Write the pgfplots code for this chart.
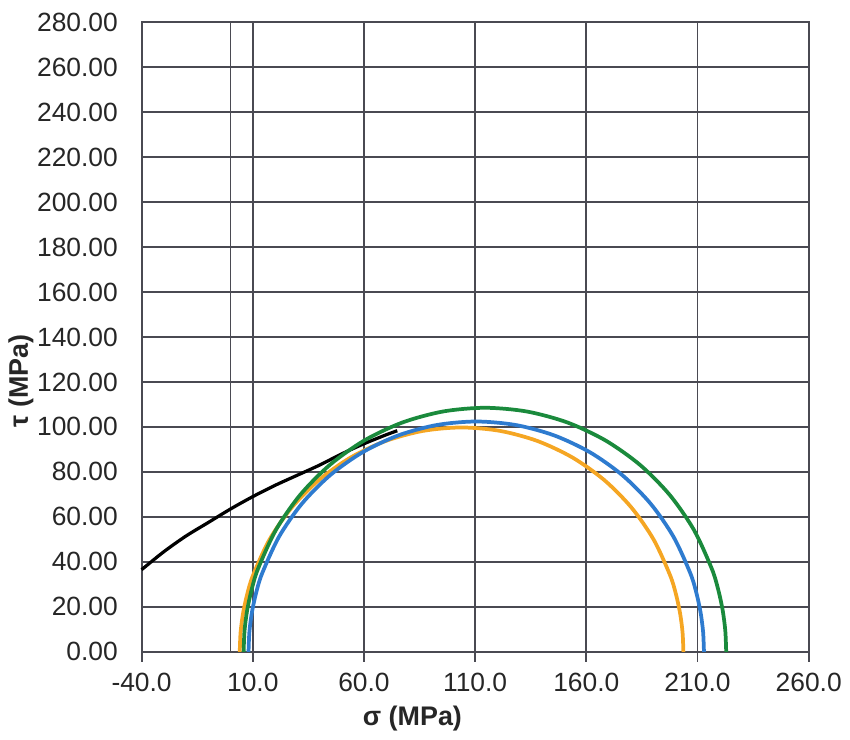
\documentclass[border=0pt]{standalone}
\usepackage{pgfplots}
\pgfplotsset{compat=1.18}
\usepackage{fontspec}
\setmainfont{Liberation Sans}
\definecolor{cor}{HTML}{F5A623}
\definecolor{cbl}{HTML}{2E7BCF}
\definecolor{cgr}{HTML}{1A8A3C}
\definecolor{cgrid}{HTML}{4A4A52}
\begin{document}
\begin{tikzpicture}
\begin{axis}[
  width=268pt, height=253pt, scale only axis,
  xmin=-40, xmax=260, ymin=0, ymax=280,
  xtick={-40,10,60,110,160,210,260},
  xticklabels={-40.0,10.0,60.0,110.0,160.0,210.0,260.0},
  ytick={0,20,40,60,80,100,120,140,160,180,200,220,240,260,280},
  yticklabels={0.00,20.00,40.00,60.00,80.00,100.00,120.00,140.00,160.00,180.00,200.00,220.00,240.00,260.00,280.00},
  extra x ticks={0}, extra x tick labels={},
  extra x tick style={grid=major, major tick length=0pt},
  grid=major,
  major grid style={draw=cgrid, line width=0.75pt},
  axis line style={draw=cgrid, line width=0.75pt},
  tick align=outside, xtick pos=bottom, ytick pos=left,
  major tick length=4pt,
  xtick style={draw=cgrid, line width=0.75pt},
  ytick style={draw=none},
  ticklabel style={font=\fontsize{10.6}{12.5}\selectfont, text=black!85},
  yticklabel style={xshift=-2pt},
  xticklabel style={yshift=-1pt},
  xlabel={σ (MPa)}, ylabel={τ (MPa)},
  label style={font=\bfseries\fontsize{10.8}{13}\selectfont, text=black!85},
  xlabel style={at={(axis description cs:0.406,-0.106)}, anchor=center},
  ylabel style={at={(axis description cs:-0.181,0.43)}, anchor=center, rotate=0},
  clip=false,
]
\path (rel axis cs:-0.212,-0.134) rectangle (rel axis cs:1.057,1.035);
% Failure envelope
\addplot[black, line width=1.3pt, smooth] coordinates {
(-40,36.5) (-30,44.5) (-20,51.5) (-10,57.5) (0,63.5) (10,69) (20,74)
(30,78.5) (40,83) (50,88) (60,92.5) (70,96.5) (75,98.3)};
% Orange circle
\addplot[cor, line width=1.5pt, smooth] coordinates {
(203.65,0) (203.27,8.70) (202.13,17.32) (200.25,25.82) (197.64,34.11) (190.29,49.88) (180.31,64.12)
(168.02,76.41) (153.78,86.39) (138.01,93.74) (121.22,98.23) (103.9,99.75)
(86.58,98.23) (69.79,93.74) (54.02,86.39) (39.78,76.41) (27.49,64.12)
(17.51,49.88) (10.16,34.11) (7.55,25.82) (5.67,17.32) (4.53,8.70) (4.15,0)};
% Blue circle
\addplot[cbl, line width=1.5pt, smooth] coordinates {
(212.9,0) (212.51,8.93) (211.34,17.78) (209.41,26.50) (206.73,35.02) (199.18,51.2) (188.94,65.82)
(176.32,78.44) (161.7,88.68) (145.52,96.23) (128.28,100.84) (110.5,102.4)
(92.72,100.84) (75.48,96.23) (59.3,88.68) (44.68,78.44) (32.06,65.82)
(21.82,51.2) (14.27,35.02) (11.59,26.50) (9.66,17.78) (8.49,8.93) (8.1,0)};
% Green circle
\addplot[cgr, line width=1.5pt, smooth] coordinates {
(222.9,0) (222.49,9.46) (221.25,18.84) (219.2,28.08) (216.36,37.11) (208.36,54.25) (197.51,69.74)
(184.14,83.11) (168.65,93.96) (151.51,101.96) (133.24,106.85) (114.4,108.5)
(95.56,106.85) (77.29,101.96) (60.15,93.96) (44.66,83.11) (31.29,69.74)
(20.44,54.25) (12.44,37.11) (9.6,28.08) (7.55,18.84) (6.31,9.46) (5.9,0)};
\end{axis}
\end{tikzpicture}
\end{document}
